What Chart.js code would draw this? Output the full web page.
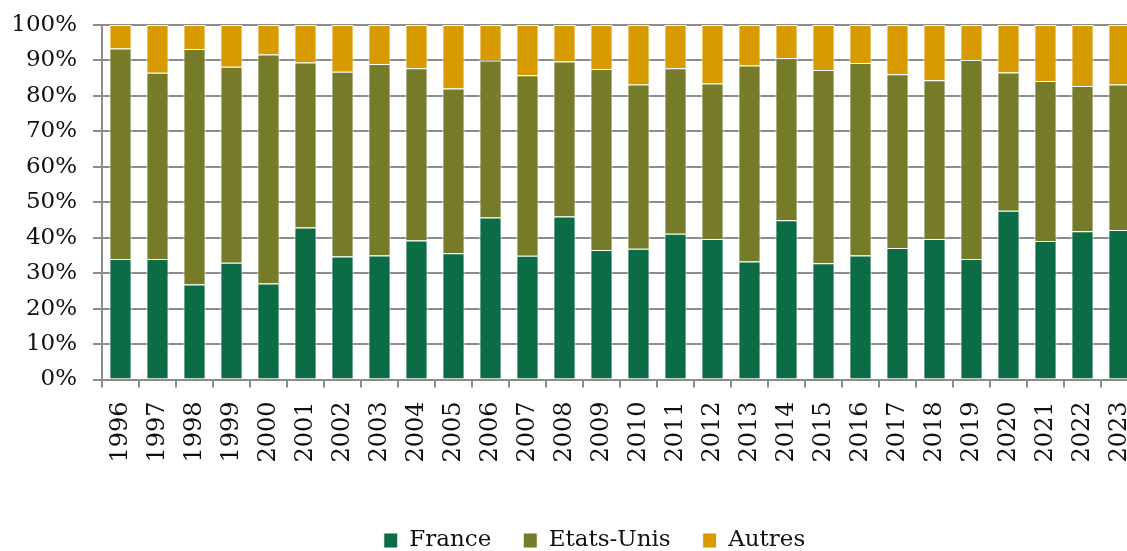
<!DOCTYPE html>
<html>
<head>
<meta charset="utf-8">
<script src="https://cdn.jsdelivr.net/npm/chart.js@4/dist/chart.umd.min.js"></script>
<style>
  html, body { margin: 0; padding: 0; background: #fff; overflow: hidden; }
  #wrap { width: 1127px; height: 551px; overflow: hidden; }
</style>
</head>
<body>
<div id="wrap"><canvas id="chart" width="1189" height="562"></canvas></div>
<script>
const annees = ['1996', '1997', '1998', '1999', '2000', '2001', '2002', '2003', '2004', '2005',
    '2006', '2007', '2008', '2009', '2010', '2011', '2012', '2013', '2014', '2015',
    '2016', '2017', '2018', '2019', '2020', '2021', '2022', '2023'];

const france = [34.0, 34.0, 26.8, 32.9, 27.1, 42.9, 34.7, 35.0, 39.2, 35.6,
    45.7, 34.9, 46.0, 36.5, 36.9, 41.1, 39.6, 33.3, 44.9, 32.8,
    35.0, 37.1, 39.6, 34.0, 47.6, 39.1, 41.8, 42.2];

const etatsUnis = [59.4, 52.5, 66.4, 55.3, 64.6, 46.5, 52.1, 54.0, 48.6, 46.5,
    44.3, 50.9, 43.7, 51.1, 46.3, 46.7, 43.9, 55.3, 45.7, 54.5,
    54.3, 49.0, 44.8, 56.1, 39.0, 45.1, 41.0, 41.0];

const autres = [6.6, 13.5, 6.8, 11.8, 8.3, 10.6, 13.2, 11.0, 12.2, 17.9,
    10.0, 14.2, 10.3, 12.4, 16.8, 12.2, 16.5, 11.4, 9.4, 12.7,
    10.7, 13.9, 15.6, 9.9, 13.4, 15.8, 17.2, 16.8];

const ticksY = [0, 10, 20, 30, 40, 50, 60, 70, 80, 90, 100];

const gris = '#8c8c8c';
const police = 'DejaVu Serif';

function serie(label, data, couleur) {
    return {
        label: label,
        data: data,
        backgroundColor: couleur,
        borderColor: 'rgba(255,255,255,0.95)',
        borderWidth: 1,
        barPercentage: 0.6,
        categoryPercentage: 1.0
    };
}

const ctx = document.getElementById('chart').getContext('2d');
new Chart(ctx, {
    type: 'bar',
    data: {
        labels: annees,
        datasets: [
            serie('France', france, '#0c6c46'),
            serie('Etats-Unis', etatsUnis, '#757b28'),
            serie('Autres', autres, '#d79b00')
        ]
    },
    options: {
        responsive: false,
        animation: false,
        layout: { padding: { top: 25, left: 0, right: 0, bottom: 0 } },
        plugins: {
            tooltip: { enabled: false },
            legend: {
                position: 'bottom',
                labels: {
                    boxWidth: 14,
                    boxHeight: 15,
                    padding: 32,
                    color: '#111',
                    font: { family: police, size: 23 }
                }
            }
        },
        scales: {
            x: {
                stacked: true,
                grid: {
                    drawOnChartArea: false,
                    drawTicks: true,
                    tickLength: 8,
                    color: gris,
                    lineWidth: 2
                },
                border: { color: gris, width: 2 },
                ticks: {
                    minRotation: 90,
                    maxRotation: 90,
                    autoSkip: false,
                    padding: 14,
                    color: '#111',
                    font: { family: police, size: 24 }
                },
                afterFit: (scale) => { scale.height = 117.5; scale.paddingTop = 0; scale.paddingBottom = 0; }
            },
            y: {
                stacked: true,
                min: 0,
                max: 100,
                afterBuildTicks: (scale) => { scale.ticks = ticksY.map(v => ({ value: v })); },
                grid: {
                    color: gris,
                    lineWidth: 2,
                    tickLength: 9
                },
                border: { color: gris, width: 2 },
                ticks: {
                    padding: 16,
                    color: '#111',
                    font: { family: police, size: 23 },
                    callback: (v) => v + '%'
                },
                afterFit: (scale) => { scale.width = 102; scale.paddingTop = 0; scale.paddingBottom = 0; }
            },
            y2: {
                position: 'right',
                display: true,
                grid: { display: false },
                border: { display: false },
                ticks: { display: false },
                afterFit: (scale) => { scale.width = 51; scale.paddingTop = 0; scale.paddingBottom = 0; }
            }
        }
    }
});
</script>
</body>
</html>
